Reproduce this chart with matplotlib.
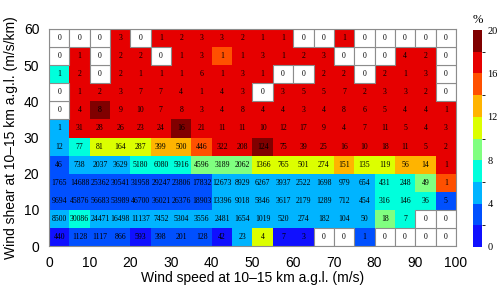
import numpy as np
import matplotlib
matplotlib.use("Agg")
import matplotlib.pyplot as plt
from matplotlib.colors import ListedColormap, BoundaryNorm
from matplotlib.patches import Rectangle

# bin edges
speed_edges = np.arange(0, 105, 5)   # wind speed (m/s)
shear_edges = np.arange(0, 65, 5)    # wind shear (m/s/km)

# sample counts per cell, rows from lowest shear bin (0-5) upward
counts = [
    [440, 1128, 1117, 866, 593, 398, 201, 128, 42, 23, 4, 7, 3, 0, 0, 1, 0, 0, 0, 0],
    [8500, 30086, 24471, 16498, 11137, 7452, 5304, 3556, 2481, 1654, 1019, 520, 274, 182, 104, 50, 18, 7, 0, 0],
    [9694, 45876, 56683, 53989, 46700, 36021, 26376, 18903, 13396, 9018, 5846, 3617, 2179, 1289, 712, 454, 316, 146, 36, 5],
    [1765, 14688, 25362, 30541, 31958, 29247, 23806, 17832, 12673, 8929, 6267, 3937, 2522, 1698, 979, 654, 431, 248, 49, 1],
    [46, 738, 2037, 3629, 5180, 6080, 5916, 4596, 3189, 2062, 1366, 765, 501, 274, 151, 135, 119, 56, 14, 1],
    [12, 77, 81, 164, 287, 399, 500, 446, 322, 208, 124, 75, 39, 25, 16, 10, 18, 11, 5, 2],
    [1, 31, 28, 26, 23, 24, 16, 21, 11, 11, 10, 12, 17, 9, 4, 7, 11, 5, 4, 3],
    [0, 4, 8, 9, 10, 7, 8, 3, 4, 8, 4, 4, 3, 4, 8, 6, 5, 4, 4, 1],
    [0, 1, 2, 3, 7, 7, 4, 1, 4, 3, 0, 3, 5, 5, 7, 2, 3, 3, 2, 0],
    [1, 2, 0, 2, 1, 1, 1, 6, 1, 3, 1, 0, 0, 2, 2, 0, 2, 1, 3, 0],
    [0, 1, 0, 2, 2, 0, 1, 3, 1, 1, 3, 1, 2, 3, 0, 0, 0, 4, 2, 0],
    [0, 0, 0, 3, 0, 1, 2, 3, 3, 2, 1, 1, 0, 0, 1, 0, 0, 0, 0, 0],
]

# percentage shown by colour (estimated from the colour classes)
pct = [
    [1, 3, 3, 3, 1, 3, 3, 3, 1, 5, 11, 1, 1, 0, 0, 3, 0, 0, 0, 0],
    [5, 7, 5, 5, 5, 5, 5, 5, 5, 5, 5, 5, 5, 5, 5, 5, 9, 7, 0, 0],
    [3, 3, 3, 3, 3, 3, 3, 3, 5, 5, 5, 5, 5, 5, 5, 5, 7, 7, 7, 3],
    [3, 3, 3, 3, 3, 3, 3, 3, 5, 5, 5, 5, 5, 5, 5, 5, 7, 7, 9, 15],
    [3, 5, 5, 5, 7, 7, 7, 9, 9, 9, 11, 11, 11, 11, 13, 11, 11, 13, 13, 17],
    [5, 7, 11, 11, 11, 13, 13, 15, 17, 17, 19, 17, 17, 17, 17, 17, 17, 17, 17, 17],
    [5, 17, 17, 17, 17, 17, 19, 17, 17, 17, 17, 17, 17, 17, 17, 17, 17, 17, 17, 17],
    [0, 17, 19, 17, 17, 17, 17, 17, 17, 17, 17, 17, 17, 17, 17, 17, 17, 17, 17, 17],
    [0, 17, 17, 17, 17, 17, 17, 17, 17, 17, 0, 17, 17, 17, 17, 17, 17, 17, 17, 0],
    [7, 17, 0, 17, 17, 17, 17, 17, 17, 17, 17, 0, 0, 17, 17, 0, 17, 17, 17, 0],
    [0, 17, 0, 17, 17, 0, 17, 17, 15, 17, 17, 17, 17, 17, 0, 0, 0, 17, 17, 0],
    [0, 0, 0, 17, 0, 17, 17, 17, 17, 17, 17, 17, 0, 0, 17, 0, 0, 0, 0, 0],
]

levels = np.arange(0, 22, 2)
level_colors = ["#1010ff", "#0050ff", "#00b4ff", "#00ffdc", "#80ff80",
                "#dcff00", "#ffb400", "#ff5000", "#e60000", "#800000"]

counts = np.array(counts)
pct = np.array(pct, dtype=float)
empty = counts == 0

cmap = ListedColormap(level_colors)
norm = BoundaryNorm(levels, cmap.N)

fig = plt.figure(figsize=(5, 2.91), dpi=100)
ax = fig.add_axes([49 / 500, 1 - 246 / 291, 407 / 500, 217 / 291])

mesh = ax.pcolormesh(speed_edges, shear_edges, np.ma.masked_where(empty, pct),
                     cmap=cmap, norm=norm, edgecolors="none")

# empty cells: white with grey outline
for i in range(len(shear_edges) - 1):
    for j in range(len(speed_edges) - 1):
        if empty[i, j]:
            ax.add_patch(Rectangle((speed_edges[j], shear_edges[i]), 5, 5,
                                   facecolor="white", edgecolor="0.55", linewidth=0.8))

xc = (speed_edges[:-1] + speed_edges[1:]) / 2
yc = (shear_edges[:-1] + shear_edges[1:]) / 2
for i, y in enumerate(yc):
    for j, x in enumerate(xc):
        ax.text(x, y, str(counts[i, j]), ha="center", va="center",
                fontsize=5.6, family="Liberation Serif", color="black")

ax.set_xlim(0, 100)
ax.set_ylim(0, 60)
ax.set_xticks(np.arange(0, 110, 10))
ax.set_yticks(np.arange(0, 70, 10))
ax.tick_params(length=0, pad=7, labelsize=10)
for lab in ax.get_xticklabels() + ax.get_yticklabels():
    lab.set_family("Liberation Sans")
for s in ax.spines.values():
    s.set_color("0.55")
    s.set_linewidth(0.8)
ax.set_xlabel("Wind speed at 10\u201315 km a.g.l. (m/s)", fontsize=10,
              family="Liberation Sans", labelpad=1)
ax.set_ylabel("Wind shear at 10\u201315 km a.g.l. (m/s/km)", fontsize=10,
              family="Liberation Sans", labelpad=4)

cax = fig.add_axes([473 / 500, 1 - 247 / 291, 9 / 500, 217 / 291])
cb = fig.colorbar(mesh, cax=cax, ticks=np.arange(0, 24, 4))
cb.outline.set_visible(False)
cax.tick_params(length=0, pad=4, labelsize=7.5)
for lab in cax.get_yticklabels():
    lab.set_family("Liberation Serif")
cax.set_title("%", fontsize=9, family="Liberation Serif", pad=5)

fig.savefig("out.png", dpi=100)
